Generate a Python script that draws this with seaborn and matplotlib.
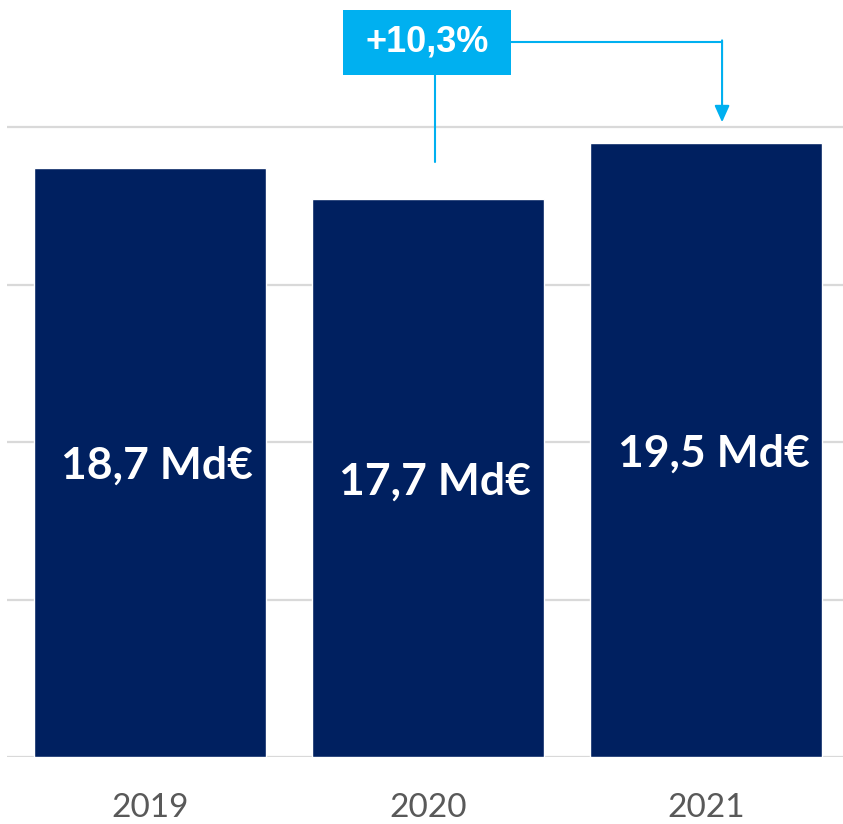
import matplotlib
matplotlib.use('Agg')
import matplotlib.pyplot as plt
import seaborn as sns
import pandas as pd
from matplotlib.patches import Rectangle

# données
annees = ['2019', '2020', '2021']
valeurs = [18.7, 17.7, 19.5]
etiquettes = ['18,7 Md€', '17,7 Md€', '19,5 Md€']
evolution = '+10,3%'

bleu_fonce = '#002060'
bleu_clair = '#00B0F0'

sns.set_style('white')
plt.rcParams['font.family'] = ['Lato', 'DejaVu Sans']

df = pd.DataFrame({'annee': annees, 'valeur': valeurs})

fig = plt.figure(figsize=(8.43, 8.24), dpi=100)
ax = fig.add_axes([7 / 843, 1 - 757 / 824, 836 / 843, 756 / 824])

sns.barplot(data=df, x='annee', y='valeur', color=bleu_fonce, width=0.835,
            saturation=1, errorbar=None, ax=ax, zorder=3)

ax.set_xlim(-0.514, 2.493)
ax.set_ylim(0, 24)
ax.set_yticks([0, 5, 10, 15, 20])
ax.yaxis.grid(True, color='#D9D9D9', linewidth=1.6, zorder=0)
ax.set_axisbelow(True)
for s in ax.spines.values():
    s.set_visible(False)
ax.set_yticklabels([])
ax.tick_params(axis='y', length=0)
ax.tick_params(axis='x', length=0, pad=26, labelsize=24, labelcolor='#595959')
ax.set_xlabel('')
ax.set_ylabel('')

# étiquettes dans les barres
for i, (v, t) in enumerate(zip(valeurs, etiquettes)):
    ax.text(i + 0.027, v / 2 - 0.52, t, ha='center', va='baseline', color='white',
            fontsize=32, fontweight='bold', zorder=4)

# encadré d'évolution
ax.add_patch(Rectangle((0.694, 21.65), 0.605, 2.06, facecolor=bleu_clair,
                       edgecolor='none', clip_on=False, zorder=5))
ax.text(0.996, 22.7, evolution, ha='center', va='center', color='white',
        fontsize=26, fontweight='bold', family=['Liberation Sans', 'DejaVu Sans'],
        zorder=6)
ax.plot([1.025, 1.025], [21.65, 18.9], color=bleu_clair, lw=1.5, zorder=5)
ax.plot([1.299, 2.058], [22.7, 22.7], color=bleu_clair, lw=1.5, zorder=5)
ax.annotate('', xy=(2.058, 20.15), xytext=(2.058, 22.75),
            arrowprops=dict(arrowstyle='-|>,head_length=1.0,head_width=0.45',
                            color=bleu_clair, lw=1.5, shrinkA=0, shrinkB=0),
            zorder=5)

fig.savefig('out.png', dpi=100)
